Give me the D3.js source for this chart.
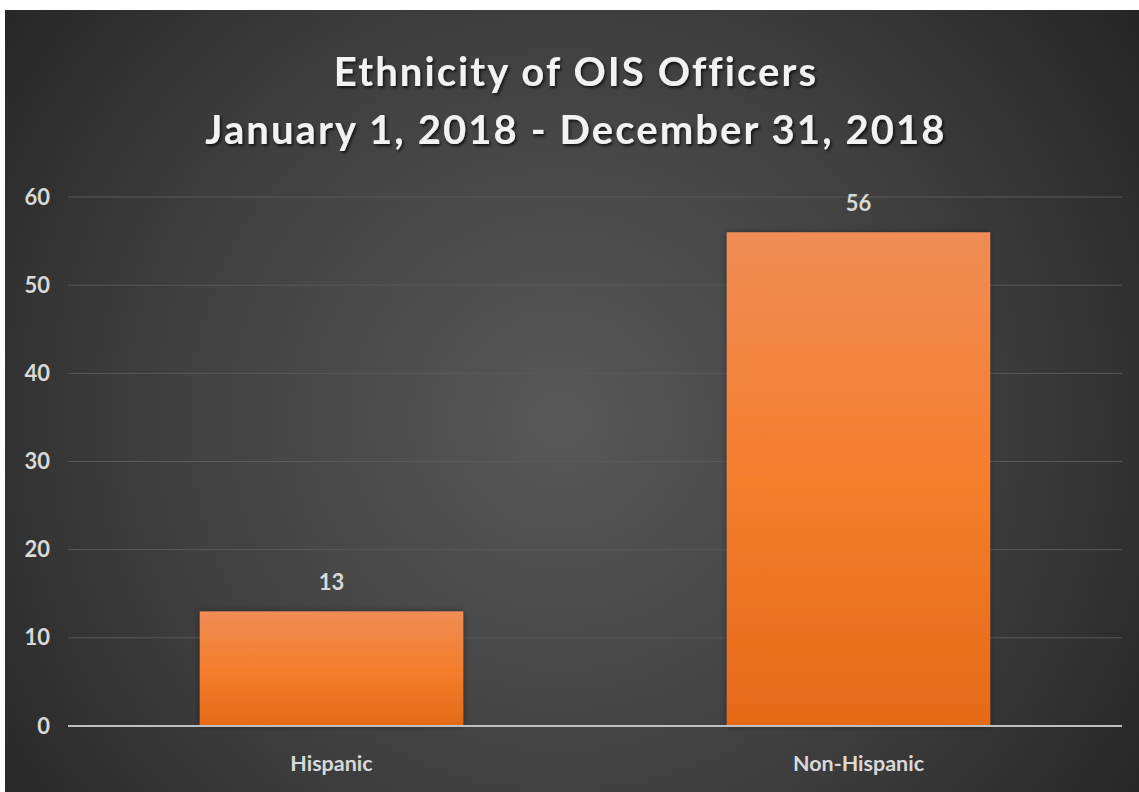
<!DOCTYPE html>
<html><head><meta charset="utf-8">
<script src="https://cdn.jsdelivr.net/npm/d3@7"></script>
<style>html,body{margin:0;padding:0;background:#fff;overflow:hidden}</style>
</head><body>
<svg id="chart" width="1139" height="792"></svg>
<script>
const categories = ["Hispanic", "Non-Hispanic"];
const values = [13, 56];
const yTicks = [0, 10, 20, 30, 40, 50, 60];
const titleLines = ["Ethnicity of OIS Officers", "January 1, 2018 - December 31, 2018"];

const W = 1139, H = 792;
const svg = d3.select("#chart");
const defs = svg.append("defs");

const bg = defs.append("radialGradient").attr("id", "bg")
  .attr("gradientUnits", "userSpaceOnUse")
  .attr("cx", 560).attr("cy", 420).attr("r", 700);
bg.append("stop").attr("offset", "0").attr("stop-color", "#585858");
bg.append("stop").attr("offset", "0.55").attr("stop-color", "#404040");
bg.append("stop").attr("offset", "1").attr("stop-color", "#262626");

const barG = defs.append("linearGradient").attr("id", "barG")
  .attr("x1", 0).attr("y1", 0).attr("x2", 0).attr("y2", 1);
barG.append("stop").attr("offset", "0").attr("stop-color", "#f08c55");
barG.append("stop").attr("offset", "0.5").attr("stop-color", "#f47e2c");
barG.append("stop").attr("offset", "1").attr("stop-color", "#e56a18");

const shadow = defs.append("filter").attr("id", "ts").attr("x", "-10%").attr("y", "-30%").attr("width", "120%").attr("height", "160%");
shadow.append("feDropShadow").attr("dx", 1.5).attr("dy", 2).attr("stdDeviation", 1.5).attr("flood-color", "#000").attr("flood-opacity", 0.75);

const bshadow = defs.append("filter").attr("id", "bs").attr("x", "-10%").attr("y", "-10%").attr("width", "120%").attr("height", "120%");
bshadow.append("feDropShadow").attr("dx", 0).attr("dy", 0).attr("stdDeviation", 3).attr("flood-color", "#000").attr("flood-opacity", 0.4);

svg.append("rect").attr("x", 5).attr("y", 10).attr("width", W - 5).attr("height", H - 10).attr("fill", "url(#bg)");

const margin = { left: 68, right: 17, top: 197, bottom: 66 };
const x = d3.scaleBand().domain(categories).range([margin.left, W - margin.right])
  .paddingInner(0.5).paddingOuter(0.25);
const y = d3.scaleLinear().domain([0, 60]).range([H - margin.bottom, margin.top]);

const font = "Lato, 'Open Sans', sans-serif";

// gridlines
svg.append("g").selectAll("line").data(yTicks.filter(d => d > 0)).join("line")
  .attr("x1", margin.left).attr("x2", W - margin.right)
  .attr("y1", d => y(d)).attr("y2", d => y(d))
  .attr("stroke", "#5a5a5a").attr("stroke-width", 1);

// y axis labels
const yAxis = svg.append("g").attr("transform", `translate(${margin.left - 18},0)`)
  .call(d3.axisLeft(y).tickValues(yTicks).tickSize(0).tickPadding(0));
yAxis.select(".domain").remove();
yAxis.selectAll("text").attr("fill", "#d9d9d9").attr("font-family", font)
  .attr("font-size", 22).attr("font-weight", 700);

// bars
svg.append("g").selectAll("rect").data(values).join("rect")
  .attr("x", (d, i) => x(categories[i])).attr("width", x.bandwidth())
  .attr("y", d => y(d)).attr("height", d => y(0) - y(d))
  .attr("fill", "url(#barG)").attr("filter", "url(#bs)");

// baseline
svg.append("line").attr("x1", margin.left).attr("x2", W - margin.right)
  .attr("y1", y(0)).attr("y2", y(0)).attr("stroke", "#bfbfbf").attr("stroke-width", 2);

// value labels
svg.append("g").selectAll("text").data(values).join("text")
  .attr("x", (d, i) => x(categories[i]) + x.bandwidth() / 2)
  .attr("y", d => y(d) - 21)
  .attr("text-anchor", "middle").attr("fill", "#d9d9d9")
  .attr("font-family", font).attr("font-size", 22).attr("font-weight", 700)
  .text(d => d);

// x axis labels
const xAxis = svg.append("g").attr("transform", `translate(0,${y(0)})`)
  .call(d3.axisBottom(x).tickSize(0).tickPadding(30));
xAxis.select(".domain").remove();
xAxis.selectAll("text").attr("fill", "#d9d9d9").attr("font-family", font)
  .attr("font-size", 21.5).attr("font-weight", 700);

// title
svg.append("g").selectAll("text").data(titleLines).join("text")
  .attr("x", 576).attr("y", (d, i) => 86 + i * 58)
  .attr("text-anchor", "middle").attr("fill", "#f2f2f2")
  .attr("font-family", font).attr("font-size", 40).attr("font-weight", 700)
  .attr("letter-spacing", 2.1)
  .attr("filter", "url(#ts)")
  .text(d => d);
</script>
</body></html>
